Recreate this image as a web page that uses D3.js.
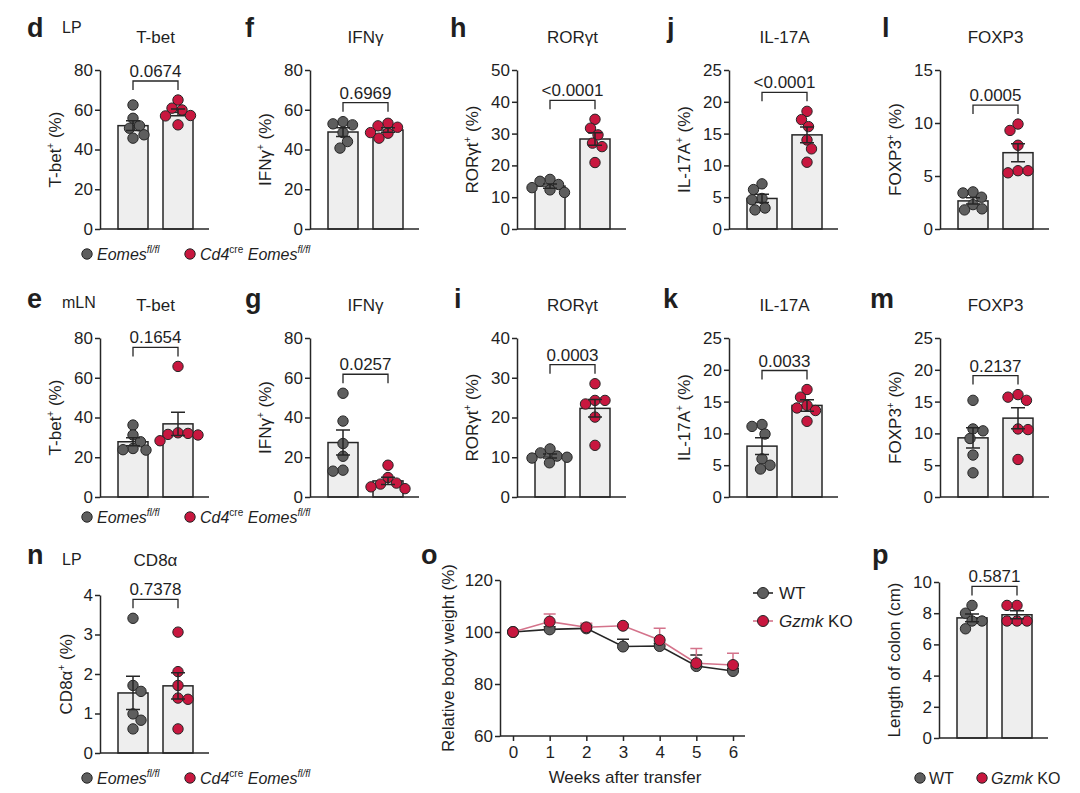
<!DOCTYPE html>
<html>
<head>
<meta charset="utf-8">
<script src="https://cdn.jsdelivr.net/npm/d3@7"></script>
<style>
body { margin: 0; background: #fff; }
svg text { font-family: "Liberation Sans", Arial, sans-serif; fill: #1f1f1f; }
</style>
</head>
<body>
<svg id="fig" width="1080" height="793"></svg>
<script>
// ---- data (mean, SEM and individual mice) ----
var tbetLpWt = [62.4, 55.7, 51.9, 50.7, 47.4, 45.7];
var tbetLpKo = [64.9, 60.8, 59.9, 57.1, 56.9, 52.4];
var tbetLpMean = [52.0, 58.7], tbetLpSem = [2.5, 1.7];

var ifngLpWt = [54.0, 52.9, 52.4, 48.5, 44.0, 40.7];
var ifngLpKo = [53.2, 51.9, 51.2, 48.5, 48.2, 45.7];
var ifngLpMean = [48.8, 49.8], ifngLpSem = [2.2, 1.1];

var rorgtLpWt = [15.6, 15.0, 14.0, 13.0, 12.3, 11.5];
var rorgtLpKo = [34.5, 31.7, 29.6, 27.0, 25.9, 20.9];
var rorgtLpMean = [13.5, 28.3], rorgtLpSem = [0.65, 1.95];

var il17LpWt = [7.1, 6.2, 4.8, 4.6, 3.3, 3.0];
var il17LpKo = [18.5, 17.2, 16.1, 14.0, 12.6, 10.5];
var il17LpMean = [4.8, 14.8], il17LpSem = [0.65, 1.25];

var foxp3LpWt = [3.5, 3.4, 3.0, 2.3, 1.9, 1.8];
var foxp3LpKo = [9.9, 9.3, 7.9, 5.5, 5.5, 5.3];
var foxp3LpMean = [2.65, 7.2], foxp3LpSem = [0.3, 0.85];

var tbetLnWt = [36.2, 31.2, 27.8, 24.4, 23.8, 23.6];
var tbetLnKo = [65.7, 32.3, 32.0, 31.5, 31.2, 28.3];
var tbetLnMean = [27.8, 36.8], tbetLnSem = [2.0, 5.8];

var ifngLnWt = [52.2, 38.2, 26.9, 20.5, 13.5, 13.0];
var ifngLnKo = [16.0, 9.8, 7.0, 6.5, 5.1, 4.2];
var ifngLnMean = [27.4, 8.1], ifngLnSem = [6.3, 1.8];

var rorgtLnWt = [12.1, 11.1, 10.3, 10.0, 9.8, 8.6];
var rorgtLnKo = [28.5, 24.3, 24.3, 23.4, 20.1, 13.0];
var rorgtLnMean = [10.3, 22.3], rorgtLnSem = [0.5, 2.2];

var il17LnWt = [11.4, 11.1, 9.9, 6.0, 5.0, 4.4];
var il17LnKo = [16.9, 15.7, 14.4, 14.0, 13.6, 11.9];
var il17LnMean = [8.0, 14.4], il17LnSem = [1.3, 0.9];

var foxp3LnWt = [15.2, 10.7, 10.4, 9.2, 6.6, 3.8];
var foxp3LnKo = [16.1, 15.7, 15.2, 10.7, 10.6, 5.9];
var foxp3LnMean = [9.3, 12.4], foxp3LnSem = [1.6, 1.65];

var cd8LpWt = [3.41, 1.71, 1.56, 0.99, 0.83, 0.61];
var cd8LpKo = [3.06, 2.06, 1.71, 1.39, 1.36, 0.61];
var cd8LpMean = [1.52, 1.70], cd8LpSem = [0.42, 0.33];

var colonWt = [8.5, 8.0, 7.5, 7.5, 7.0];
var colonKo = [8.5, 8.5, 7.5, 7.5, 7.5];
var colonMean = [7.7, 7.9], colonSem = [0.25, 0.25];

var weeks = [0, 1, 2, 3, 4, 5, 6];
var weightWt = [100, 101.0, 101.4, 94.4, 94.6, 86.9, 85.0];
var weightKo = [100, 104.0, 101.8, 102.4, 96.9, 88.0, 87.3];
var weightWtSem = [0.3, 1.0, 1.2, 2.8, 1.0, 4.3, 1.0];
var weightKoSem = [0.3, 2.9, 1.6, 0.5, 4.5, 5.7, 4.5];

// ---- look ----
var FONT = '"Liberation Sans", Arial, sans-serif';
var GREY = '#5e5e5e', RED = '#c8173f', INK = '#262626', BAR = '#eeeeee';
var KO_LINE = '#d4738b';

var svg = d3.select('#fig');

var rows = [
    { top: 70, bottom: 229, letterY: 37, titleY: 43, regionY: 33, legendY: 254 },
    { top: 338, bottom: 497, letterY: 308, titleY: 311, regionY: 308, legendY: 517 },
    { top: 595, bottom: 753, letterY: 564, titleY: 566, regionY: 565, legendY: 778 }
];

var panels = [
    { letter: 'd', lx: 27, row: 0, x0: 100, region: 'LP', title: 'T-bet', ylab: 'T-bet', max: 80, step: 20, pval: '0.0674', wt: tbetLpWt, ko: tbetLpKo, mean: tbetLpMean, sem: tbetLpSem },
    { letter: 'f', lx: 245, row: 0, x0: 310, title: 'IFN\u03b3', ylab: 'IFN\u03b3', max: 80, step: 20, pval: '0.6969', wt: ifngLpWt, ko: ifngLpKo, mean: ifngLpMean, sem: ifngLpSem },
    { letter: 'h', lx: 450, row: 0, x0: 517, title: 'ROR\u03b3t', ylab: 'ROR\u03b3t', max: 50, step: 10, pval: '<0.0001', wt: rorgtLpWt, ko: rorgtLpKo, mean: rorgtLpMean, sem: rorgtLpSem },
    { letter: 'j', lx: 667, row: 0, x0: 729, title: 'IL-17A', ylab: 'IL-17A', max: 25, step: 5, pval: '<0.0001', wt: il17LpWt, ko: il17LpKo, mean: il17LpMean, sem: il17LpSem },
    { letter: 'l', lx: 882, row: 0, x0: 940, title: 'FOXP3', ylab: 'FOXP3', max: 15, step: 5, pval: '0.0005', wt: foxp3LpWt, ko: foxp3LpKo, mean: foxp3LpMean, sem: foxp3LpSem },
    { letter: 'e', lx: 27, row: 1, x0: 100, region: 'mLN', title: 'T-bet', ylab: 'T-bet', max: 80, step: 20, pval: '0.1654', wt: tbetLnWt, ko: tbetLnKo, mean: tbetLnMean, sem: tbetLnSem },
    { letter: 'g', lx: 245, row: 1, x0: 310, title: 'IFN\u03b3', ylab: 'IFN\u03b3', max: 80, step: 20, pval: '0.0257', wt: ifngLnWt, ko: ifngLnKo, mean: ifngLnMean, sem: ifngLnSem },
    { letter: 'i', lx: 454, row: 1, x0: 517, title: 'ROR\u03b3t', ylab: 'ROR\u03b3t', max: 40, step: 10, pval: '0.0003', wt: rorgtLnWt, ko: rorgtLnKo, mean: rorgtLnMean, sem: rorgtLnSem },
    { letter: 'k', lx: 663, row: 1, x0: 729, title: 'IL-17A', ylab: 'IL-17A', max: 25, step: 5, pval: '0.0033', wt: il17LnWt, ko: il17LnKo, mean: il17LnMean, sem: il17LnSem },
    { letter: 'm', lx: 870, row: 1, x0: 940, title: 'FOXP3', ylab: 'FOXP3', max: 25, step: 5, pval: '0.2137', wt: foxp3LnWt, ko: foxp3LnKo, mean: foxp3LnMean, sem: foxp3LnSem },
    { letter: 'n', lx: 27, row: 2, x0: 100, region: 'LP', title: 'CD8\u03b1', ylab: 'CD8\u03b1', max: 4, step: 1, pval: '0.7378', wt: cd8LpWt, ko: cd8LpKo, mean: cd8LpMean, sem: cd8LpSem },
    { letter: 'p', lx: 872, row: 2, x0: 939, top: 582, bottom: 738, ylabFull: 'Length of colon (cm)', max: 10, step: 2, pval: '0.5871', wt: colonWt, ko: colonKo, mean: colonMean, sem: colonSem }
];

// text built from pieces: {t, i (italic), sup (superscript)}
function RichText(sel, parts, size) {
    var supSize = Math.round(size * 0.6);
    var shifted = false;
    parts.forEach(function(p) {
        var ts = sel.append('tspan').text(p.t);
        if (p.i) ts.attr('font-style', 'italic');
        if (p.sup && !shifted) { ts.attr('dy', -size * 0.42).attr('font-size', supSize); shifted = true; }
        else if (p.sup) { ts.attr('font-size', supSize); }
        else if (shifted) { ts.attr('dy', size * 0.42); shifted = false; }
    });
    return sel;
}

function StyleAxis(g) {
    g.attr('font-family', FONT);
    g.select('.domain').attr('stroke', INK).attr('stroke-width', 1.5);
    g.selectAll('.tick line').attr('stroke', INK).attr('stroke-width', 1.5);
    g.selectAll('.tick text').attr('font-size', 17).attr('fill', '#1f1f1f');
}

// simple beeswarm: offsets so the dots don't sit on top of each other
function Swarm(vals, y, r) {
    var placed = [];
    var dx = new Array(vals.length);
    var order = d3.range(vals.length).sort(function(a, b) { return vals[b] - vals[a]; });
    var minD = 1.9 * r;
    order.forEach(function(i, n) {
        var py = y(vals[i]);
        var sign = n % 2 === 0 ? 1 : -1;
        var best = 0;
        for (var k = 0; k <= 80; k++) {
            var cands = k === 0 ? [0] : [sign * k * 0.5, -sign * k * 0.5];
            var hit = cands.filter(function(c) {
                return placed.every(function(p) {
                    return (p[0] - c) * (p[0] - c) + (p[1] - py) * (p[1] - py) >= minD * minD;
                });
            });
            if (hit.length) { best = hit[0]; break; }
        }
        placed.push([best, py]);
        dx[i] = best;
    });
    return dx;
}

function PanelLetter(letter, x, y) {
    svg.append('text').attr('x', x).attr('y', y).attr('font-size', 27)
        .attr('font-weight', 'bold').attr('fill', '#111').text(letter);
}

function EomesLegend(y) {
    var g = svg.append('g');
    g.append('circle').attr('cx', 87).attr('cy', y).attr('r', 5.2).attr('fill', GREY).attr('stroke', INK);
    RichText(g.append('text').attr('x', 97).attr('y', y + 6).attr('font-size', 16),
        [{ t: 'Eomes', i: true }, { t: 'fl/fl', i: true, sup: true }], 16);
    g.append('circle').attr('cx', 190).attr('cy', y).attr('r', 5.2).attr('fill', RED).attr('stroke', INK);
    RichText(g.append('text').attr('x', 200).attr('y', y + 6).attr('font-size', 16),
        [{ t: 'Cd4', i: true }, { t: 'cre', sup: true }, { t: ' Eomes', i: true }, { t: 'fl/fl', i: true, sup: true }], 16);
}

function BarPanel(p) {
    var row = rows[p.row];
    var top = p.top || row.top, bottom = p.bottom || row.bottom;
    var y = d3.scaleLinear().domain([0, p.max]).range([bottom, top]);
    var x = d3.scaleBand().domain([0, 1]).range([p.x0 + 18, p.x0 + 93]).paddingInner(1 / 3);
    var bw = x.bandwidth();
    var g = svg.append('g');
    var sets = [p.wt, p.ko], fills = [GREY, RED];

    g.selectAll('rect.bar').data(p.mean).enter().append('rect')
        .attr('class', 'bar')
        .attr('x', function(d, i) { return x(i); })
        .attr('y', function(d) { return y(d); })
        .attr('width', bw)
        .attr('height', function(d) { return bottom - y(d); })
        .attr('fill', BAR).attr('stroke', INK).attr('stroke-width', 1.5);

    sets.forEach(function(vals, i) {
        var offs = Swarm(vals, y, 5.2);
        var cx = x(i) + bw / 2;
        g.selectAll('circle.s' + i).data(vals).enter().append('circle')
            .attr('class', 's' + i)
            .attr('cx', function(d, j) { return cx + offs[j]; })
            .attr('cy', function(d) { return y(d); })
            .attr('r', 5.2)
            .attr('fill', fills[i]).attr('stroke', INK).attr('stroke-width', 1);
    });

    // mean +/- SEM
    p.mean.forEach(function(m, i) {
        var cx = x(i) + bw / 2, lo = y(m - p.sem[i]), hi = y(m + p.sem[i]);
        g.append('path').attr('d', 'M' + cx + ',' + lo + 'V' + hi +
                'M' + (cx - 7) + ',' + hi + 'H' + (cx + 7) +
                'M' + (cx - 7) + ',' + lo + 'H' + (cx + 7))
            .attr('fill', 'none').attr('stroke', INK).attr('stroke-width', 1.5);
    });

    var ax = g.append('g').attr('transform', 'translate(' + p.x0 + ',0)')
        .call(d3.axisLeft(y).tickValues(d3.range(0, p.max + 1e-9, p.step)).tickFormat(d3.format('d'))
            .tickSize(5).tickSizeOuter(0).tickPadding(2));
    StyleAxis(ax);
    g.append('line').attr('x1', p.x0).attr('x2', p.x0 + 109).attr('y1', bottom).attr('y2', bottom)
        .attr('stroke', INK).attr('stroke-width', 1.5);

    // significance bracket above the highest dot or error bar
    var highest = d3.min([y(d3.max(p.wt)), y(d3.max(p.ko)),
        y(p.mean[0] + p.sem[0]), y(p.mean[1] + p.sem[1])]);
    var yb = highest - 10, yt = yb - 9;
    var x1 = x(0) + bw / 2, x2 = x(1) + bw / 2;
    g.append('path').attr('d', 'M' + x1 + ',' + yb + 'V' + yt + 'H' + x2 + 'V' + yb)
        .attr('fill', 'none').attr('stroke', INK).attr('stroke-width', 1.3);
    g.append('text').attr('x', (x1 + x2) / 2).attr('y', yt - 4).attr('text-anchor', 'middle')
        .attr('font-size', 17).text(p.pval);

    // y label
    var chars = String(p.max).length;
    var lab = g.append('text').attr('text-anchor', 'middle').attr('font-size', 17)
        .attr('transform', 'translate(' + (p.x0 - 17 - 11 * chars) + ',' + ((top + bottom) / 2) + ') rotate(-90)');
    if (p.ylabFull) lab.text(p.ylabFull);
    else RichText(lab, [{ t: p.ylab }, { t: '+', sup: true }, { t: ' (%)' }], 17);

    if (p.title) {
        g.append('text').attr('x', (x1 + x2) / 2).attr('y', row.titleY).attr('text-anchor', 'middle')
            .attr('font-size', 17).text(p.title);
    }
    if (p.region) {
        g.append('text').attr('x', 62).attr('y', row.regionY).attr('font-size', 16).text(p.region);
    }
    PanelLetter(p.letter, p.lx, row.letterY);
}

function WeightPanel() {
    var x = d3.scaleLinear().domain([0, 6]).range([513, 733]);
    var y = d3.scaleLinear().domain([60, 120]).range([736, 580]);
    var g = svg.append('g');

    var series = [
        { vals: weightWt, sem: weightWtSem, line: INK, fill: GREY },
        { vals: weightKo, sem: weightKoSem, line: KO_LINE, fill: RED }
    ];
    var line = d3.line().x(function(d, i) { return x(weeks[i]); }).y(function(d) { return y(d); });

    series.forEach(function(s) {
        s.vals.forEach(function(v, i) {
            var cx = x(weeks[i]), hi = y(v + s.sem[i]);
            g.append('path').attr('d', 'M' + cx + ',' + y(v) + 'V' + hi + 'M' + (cx - 6) + ',' + hi + 'H' + (cx + 6))
                .attr('fill', 'none').attr('stroke', s.line).attr('stroke-width', 1.5);
        });
    });
    series.forEach(function(s) {
        g.append('path').datum(s.vals).attr('d', line).attr('fill', 'none')
            .attr('stroke', s.line).attr('stroke-width', 1.6);
        g.selectAll(null).data(s.vals).enter().append('circle')
            .attr('cx', function(d, i) { return x(weeks[i]); })
            .attr('cy', function(d) { return y(d); })
            .attr('r', 5.5).attr('fill', s.fill).attr('stroke', INK).attr('stroke-width', 1);
    });

    var ay = g.append('g').attr('transform', 'translate(500,0)')
        .call(d3.axisLeft(y).tickValues([60, 80, 100, 120]).tickSize(5).tickSizeOuter(0).tickPadding(2));
    StyleAxis(ay);
    var axb = g.append('g').attr('transform', 'translate(0,736)')
        .call(d3.axisBottom(x).tickValues(weeks).tickFormat(d3.format('d')).tickSize(5).tickSizeOuter(0).tickPadding(5));
    StyleAxis(axb);
    axb.select('.domain').remove();
    g.append('line').attr('x1', 500).attr('x2', 745).attr('y1', 736).attr('y2', 736)
        .attr('stroke', INK).attr('stroke-width', 1.5);

    g.append('text').attr('x', 625).attr('y', 783).attr('text-anchor', 'middle').attr('font-size', 17)
        .text('Weeks after transfer');
    g.append('text').attr('text-anchor', 'middle').attr('font-size', 17)
        .attr('transform', 'translate(454,658) rotate(-90)').text('Relative body weight (%)');

    // legend
    series.forEach(function(s, i) {
        var ly = 593 + i * 28;
        g.append('line').attr('x1', 753).attr('x2', 773).attr('y1', ly).attr('y2', ly)
            .attr('stroke', s.line).attr('stroke-width', 1.6);
        g.append('circle').attr('cx', 763).attr('cy', ly).attr('r', 5.5).attr('fill', s.fill).attr('stroke', INK);
    });
    g.append('text').attr('x', 779).attr('y', 599).attr('font-size', 17).text('WT');
    RichText(g.append('text').attr('x', 779).attr('y', 627).attr('font-size', 17),
        [{ t: 'Gzmk', i: true }, { t: ' KO' }], 17);

    PanelLetter('o', 421, rows[2].letterY);
}

function ColonLegend(y) {
    var g = svg.append('g');
    g.append('circle').attr('cx', 920).attr('cy', y).attr('r', 5.2).attr('fill', GREY).attr('stroke', INK);
    g.append('text').attr('x', 929).attr('y', y + 6).attr('font-size', 16).text('WT');
    g.append('circle').attr('cx', 982).attr('cy', y).attr('r', 5.2).attr('fill', RED).attr('stroke', INK);
    RichText(g.append('text').attr('x', 991).attr('y', y + 6).attr('font-size', 16),
        [{ t: 'Gzmk', i: true }, { t: ' KO' }], 16);
}

panels.forEach(BarPanel);
WeightPanel();
EomesLegend(rows[0].legendY);
EomesLegend(rows[1].legendY);
EomesLegend(rows[2].legendY);
ColonLegend(rows[2].legendY);
</script>
</body>
</html>
